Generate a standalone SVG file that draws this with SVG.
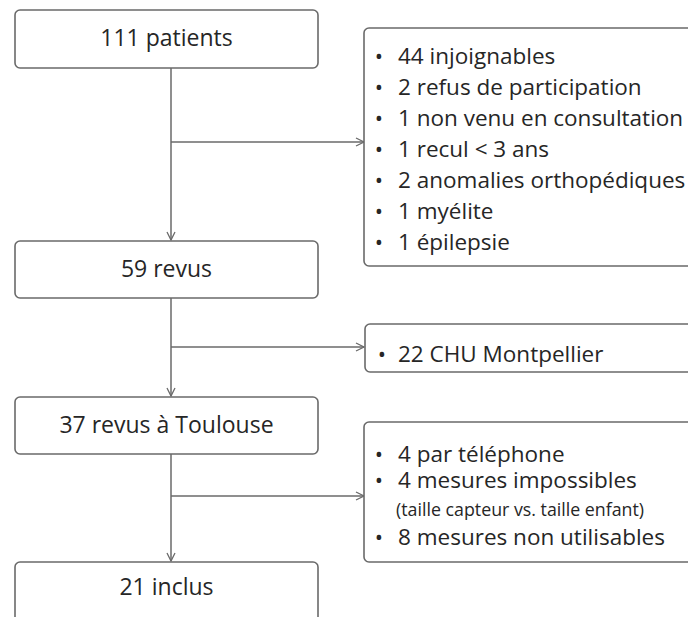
<svg xmlns="http://www.w3.org/2000/svg" width="688" height="617" viewBox="0 0 688 617">
<style>
.box{fill:#fff;stroke:#6a6a6a;stroke-width:1.6}
.t{font-family:"Open Sans","Liberation Sans",sans-serif;fill:#262626}
.c{font-size:23px;text-anchor:middle}
.r{font-size:22.5px}
.b{font-size:22px;text-anchor:middle}
.s{font-size:17.8px}
.ln{stroke:#6a6a6a;stroke-width:1.5;fill:none}
</style>
<defs>
<marker id="ah" markerUnits="userSpaceOnUse" markerWidth="12" markerHeight="12" refX="9" refY="5" orient="auto" viewBox="0 0 12 10">
<path d="M1,1 L9,5 L1,9" fill="none" stroke="#6a6a6a" stroke-width="1.3"/>
</marker>
</defs>
<rect width="688" height="617" fill="#fff"/>
<g id="connectors">
<line class="ln" x1="171" y1="68" x2="171" y2="240" marker-end="url(#ah)"/>
<line class="ln" x1="171" y1="142" x2="364" y2="142" marker-end="url(#ah)"/>
<line class="ln" x1="171" y1="298" x2="171" y2="396" marker-end="url(#ah)"/>
<line class="ln" x1="171" y1="347" x2="364" y2="347" marker-end="url(#ah)"/>
<line class="ln" x1="171" y1="454" x2="171" y2="561" marker-end="url(#ah)"/>
<line class="ln" x1="171" y1="496" x2="364" y2="496" marker-end="url(#ah)"/>
</g>
<g id="n111">
<rect class="box" x="15" y="10" width="303" height="58" rx="5"/>
<text class="t c" x="166.5" y="46">111 patients</text>
</g>
<g id="n59">
<rect class="box" x="15" y="241" width="303" height="57" rx="5"/>
<text class="t c" x="166.5" y="277">59 revus</text>
</g>
<g id="n37">
<rect class="box" x="15" y="397" width="303" height="57" rx="5"/>
<text class="t c" x="166.5" y="433">37 revus à Toulouse</text>
</g>
<g id="n21">
<rect class="box" x="15" y="562" width="303" height="70" rx="5"/>
<text class="t c" x="166.5" y="595">21 inclus</text>
</g>
<g id="excl1">
<rect class="box" x="364" y="28" width="340" height="238" rx="5"/>
<text class="t b" x="379" y="64">•</text><text class="t r" x="398" y="64">44 injoignables</text>
<text class="t b" x="379" y="95">•</text><text class="t r" x="398" y="95">2 refus de participation</text>
<text class="t b" x="379" y="126">•</text><text class="t r" x="398" y="126">1 non venu en consultation</text>
<text class="t b" x="379" y="157">•</text><text class="t r" x="398" y="157">1 recul &lt; 3 ans</text>
<text class="t b" x="379" y="188">•</text><text class="t r" x="398" y="188">2 anomalies orthopédiques</text>
<text class="t b" x="379" y="219">•</text><text class="t r" x="398" y="219">1 myélite</text>
<text class="t b" x="379" y="250">•</text><text class="t r" x="398" y="250">1 épilepsie</text>
</g>
<g id="excl2">
<rect class="box" x="365" y="324" width="340" height="48" rx="5"/>
<text class="t b" x="382" y="362">•</text><text class="t r" x="398" y="362">22 CHU Montpellier</text>
</g>
<g id="excl3">
<rect class="box" x="364" y="422" width="340" height="140" rx="5"/>
<text class="t b" x="379" y="462">•</text><text class="t r" x="398" y="462">4 par téléphone</text>
<text class="t b" x="379" y="488">•</text><text class="t r" x="398" y="488">4 mesures impossibles</text>
<text class="t s" x="396" y="516">(taille capteur vs. taille enfant)</text>
<text class="t b" x="379" y="545">•</text><text class="t r" x="398" y="545">8 mesures non utilisables</text>
</g>
</svg>
